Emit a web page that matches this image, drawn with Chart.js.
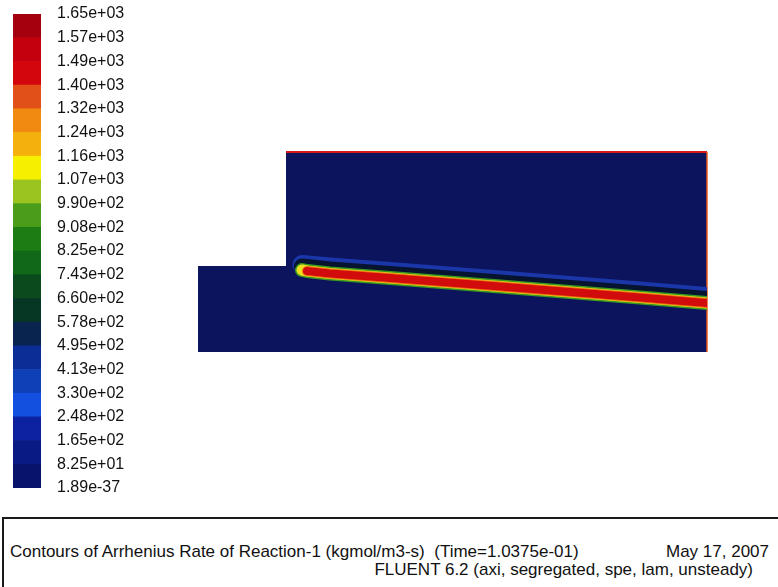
<!DOCTYPE html>
<html>
<head>
<meta charset="utf-8">
<script src="https://cdn.jsdelivr.net/npm/chart.js@4/dist/chart.umd.min.js"></script>
<style>
  html, body { margin: 0; padding: 0; background: #fff; }
  body { width: 778px; height: 587px; position: relative; overflow: hidden;
         font-family: "Liberation Sans", Arial, sans-serif; color: #111; }
  #domainChart { position: absolute; left: 0; top: 0; }
  #scaleChart { position: absolute; left: 0; top: 0; }
  #footer { position: absolute; left: 2px; top: 517px; width: 778px; height: 80px;
            border-top: 2px solid #1a1a1a; border-left: 2px solid #1a1a1a; }
  .ft { position: absolute; font-size: 17px; line-height: 17px; white-space: pre; }
</style>
</head>
<body>
<canvas id="domainChart" width="778" height="517"></canvas>
<canvas id="scaleChart" width="141" height="500"></canvas>
<div id="footer"></div>
<div class="ft" style="left:10px; top:543px;">Contours of Arrhenius Rate of Reaction-1 (kgmol/m3-s)  (Time=1.0375e-01)</div>
<div class="ft" style="right:9px; top:543px;">May 17, 2007</div>
<div class="ft" style="right:25px; top:561px;">FLUENT 6.2 (axi, segregated, spe, lam, unsteady)</div>
<script>
// contour levels (kgmol/m3-s), bottom to top
const levels = [0, 82.5, 165, 247.5, 330, 412.5, 495, 577.5, 660, 742.5, 825,
  907.5, 990, 1072.5, 1155, 1237.5, 1320, 1402.5, 1485, 1567.5, 1650];
const levelLabels = ["1.89e-37", "8.25e+01", "1.65e+02", "2.48e+02", "3.30e+02",
  "4.13e+02", "4.95e+02", "5.78e+02", "6.60e+02", "7.43e+02", "8.25e+02",
  "9.08e+02", "9.90e+02", "1.07e+03", "1.16e+03", "1.24e+03", "1.32e+03",
  "1.40e+03", "1.49e+03", "1.57e+03", "1.65e+03"];
const bandColors = ["#08146c", "#0a1a84", "#0c22a0", "#1450e0", "#1040b8",
  "#0c2c96", "#0a2450", "#063624", "#0a4a1c", "#106818", "#1e7c14", "#4c9c1c",
  "#9cc420", "#f6f000", "#f4b00c", "#f08a10", "#e2501a", "#d2060c", "#c4000f",
  "#a5000e"];

// domain outline (cm): inlet then step to the outer chamber
const wallX = [0, 0.88, 0.88, 5.09];
const wallY = [0.86, 0.86, 2.0, 2.0];

// reaction zone, centre of the red core
const flameX = [1.04, 1.09, 1.32, 1.92, 3.02, 4.42, 5.09];
const flameY = [0.82, 0.81, 0.785, 0.74, 0.655, 0.545, 0.49];
// blue rim above the flame and the dark gap between
const rimY = [0.875, 0.87, 0.85, 0.805, 0.72, 0.61, 0.555];
const gapY = [0.855, 0.85, 0.825, 0.78, 0.695, 0.585, 0.53];

document.addEventListener("DOMContentLoaded", function () {
  function pts(xs, ys, from) {
    const out = [];
    for (let i = from || 0; i < xs.length; i++) out.push({ x: xs[i], y: ys[i] });
    return out;
  }

  function flameLayer(ys, color, width, from) {
    return {
      data: pts(flameX, ys, from),
      borderColor: color,
      borderWidth: width,
      borderCapStyle: "round",
      borderJoinStyle: "round",
      fill: false,
      clip: { left: false, top: false, bottom: false, right: -71 },
    };
  }

  new Chart(document.getElementById("domainChart").getContext("2d"), {
    type: "line",
    data: {
      datasets: [
        flameLayer(flameY, "#d20c0c", 8, 1),
        flameLayer(flameY, "#ee7a12", 10, 1),
        flameLayer(flameY, "#eee020", 11, 0),
        flameLayer(flameY, "#3a9a1e", 14, 0),
        flameLayer(gapY, "#061430", 16, 0),
        flameLayer(rimY, "#1a36a8", 19, 0),
        {
          data: [{ x: wallX[3], y: 0 }, { x: wallX[3], y: wallY[3] }],
          borderColor: "#e85a20",
          borderWidth: 1.5,
          fill: false,
          clip: false,
        },
        {
          data: pts(wallX, wallY, 2),
          borderColor: "#d81818",
          borderWidth: 2,
          fill: false,
          clip: false,
        },
        {
          data: pts(wallX, wallY),
          borderWidth: 0,
          borderColor: "rgba(0,0,0,0)",
          backgroundColor: "#0b145c",
          fill: "origin",
        },
      ],
    },
    options: {
      responsive: false,
      animation: false,
      layout: { padding: 0 },
      elements: { point: { radius: 0 }, line: { tension: 0 } },
      plugins: { legend: { display: false }, tooltip: { enabled: false } },
      scales: {
        x: { type: "linear", min: -1.98, max: 5.8, display: false },
        y: { type: "linear", min: -1.65, max: 3.52, display: false },
      },
    },
  });

  const bands = [];
  for (let i = 0; i < bandColors.length; i++) {
    bands.push({
      data: [levels[i + 1] - levels[i]],
      backgroundColor: bandColors[i],
      borderWidth: 0,
      categoryPercentage: 1,
      barPercentage: 1,
    });
  }

  new Chart(document.getElementById("scaleChart").getContext("2d"), {
    type: "bar",
    data: { labels: [""], datasets: bands },
    options: {
      responsive: false,
      animation: false,
      layout: { padding: { left: 13, top: 14, bottom: 12, right: 0 } },
      plugins: { legend: { display: false }, tooltip: { enabled: false } },
      scales: {
        x: { stacked: true, display: false },
        y: {
          stacked: true,
          min: levels[0],
          max: levels[levels.length - 1],
          position: "right",
          grid: { display: false, drawTicks: false },
          border: { display: false },
          afterBuildTicks: function (axis) {
            axis.ticks = levels.map(function (v) { return { value: v }; });
          },
          afterFit: function (axis) {
            axis.width = 100;
            axis.paddingTop = 0;
            axis.paddingBottom = 0;
          },
          ticks: {
            autoSkip: false,
            padding: 16,
            color: "#111",
            font: { family: "'Liberation Sans', Arial, sans-serif", size: 16 },
            callback: function (value, index) {
              return levelLabels[index];
            },
          },
        },
      },
    },
  });
});
</script>
</body>
</html>
